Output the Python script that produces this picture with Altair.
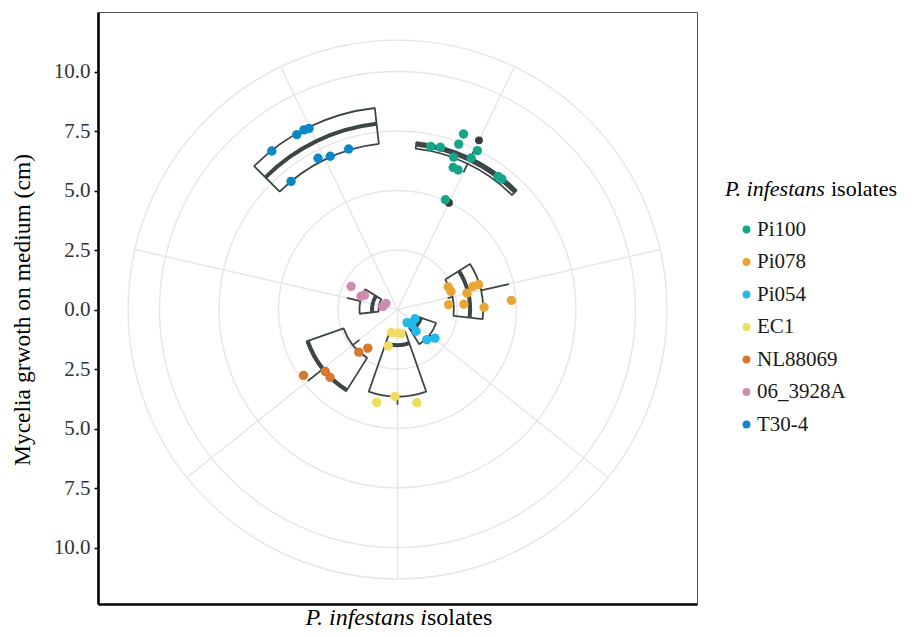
import math
import altair as alt
import pandas as pd

# ---------------- data ----------------
isolates = ["Pi100", "Pi078", "Pi054", "EC1", "NL88069", "06_3928A", "T30-4"]
palette = ["#16A589", "#E8A735", "#25B8EA", "#F0DC5E", "#D6792E", "#CE8AB0", "#0A87C6"]

# jittered observations (cm) and their angular jitter (fraction of one category)
values = {
    "Pi100": [7.88, 7.41, 7.47, 6.99, 7.05, 6.82, 7.08, 6.41, 6.39, 7.01, 7.02, 5.03],
    "Pi078": [2.33, 2.37, 2.16, 2.80, 3.00, 3.31, 3.57, 3.64, 4.80],
    "Pi054": [0.68, 0.83, 0.87, 1.20, 1.77, 1.98],
    "EC1": [1.00, 1.00, 1.03, 1.58, 3.65, 4.00, 4.00],
    "NL88069": [4.82, 4.00, 4.02, 2.42, 2.05],
    "06_3928A": [2.18, 1.63, 1.51, 0.63, 0.55],
    "T30-4": [8.50, 8.48, 8.51, 8.47, 7.00, 7.18, 7.03, 7.05],
}
jitter = {
    "Pi100": [-0.099, -0.105, 0.019, -0.276, -0.212, -0.107, 0.004, -0.084, -0.043, 0.221, 0.252, -0.041],
    "Pi078": [-0.215, -0.114, 0.143, 0.161, -0.007, -0.080, -0.082, 0.221, 0.161],
    "Pi054": [0.300, -0.206, 0.157, 0.213, 0.140, -0.021],
    "EC1": [0.278, -0.010, -0.161, 0.278, 0.033, 0.245, -0.227],
    "NL88069": [0.069, -0.041, -0.127, -0.179, -0.270],
    "06_3928A": [0.265, 0.139, 0.207, -0.036, 0.275],
    "T30-4": [-0.247, -0.082, -0.035, -0.006, -0.272, -0.039, 0.039, 0.171],
}

# box-plot statistics (cm)
box_q1 = [6.80, 2.37, 0.90, 0.98, 2.40, 0.80, 7.00]
box_median = [6.98, 3.05, 1.05, 1.50, 4.00, 1.07, 7.85]
box_q3 = [7.08, 3.60, 1.72, 3.66, 4.05, 1.60, 8.52]
whisker_low = [6.39, 2.16, 0.68, 0.98, 2.05, 0.55, 7.00]
whisker_high = [7.47, 4.80, 1.98, 4.00, 4.82, 2.18, 8.52]

outlier_isolate = ["Pi100", "Pi100"]
outlier_value = [7.89, 4.98]

grid_radius = [2.5, 5.0, 7.5, 10.0, 11.32]
y_ticks = [-10, -7.5, -5, -2.5, 0, 2.5, 5, 7.5, 10]

# ---------------- tables ----------------
points_df = pd.DataFrame(
    [
        {"isolate": iso, "idx": isolates.index(iso), "value": v, "jit": j}
        for iso in isolates
        for v, j in zip(values[iso], jitter[iso])
    ]
)
box_df = pd.DataFrame(
    {
        "isolate": isolates,
        "idx": list(range(len(isolates))),
        "q1": box_q1,
        "med": box_median,
        "q3": box_q3,
        "wlo": whisker_low,
        "whi": whisker_high,
    }
)
out_df = pd.DataFrame(
    {"isolate": outlier_isolate, "idx": [isolates.index(i) for i in outlier_isolate], "value": outlier_value}
)
grid_df = pd.DataFrame({"r": grid_radius})
spoke_df = pd.DataFrame({"idx": list(range(len(isolates))), "r": [grid_radius[-1]] * len(isolates)})
one = pd.DataFrame({"a": [0]})

# ---------------- geometry / style ----------------
W, H = 599, 592
PPU = 23.8          # pixels per cm
CX, CY = 299.5, 297.5
N = len(isolates)
BOX = "#3D4646"
GRID = "#E6E6EA"
FONT = "Liberation Serif"

x_scale = alt.Scale(domain=[-CX / PPU, (W - CX) / PPU], nice=False, zero=False)
y_scale = alt.Scale(domain=[-(H - CY) / PPU, CY / PPU], nice=False, zero=False)
theta_scale = alt.Scale(type="linear", domain=[0, N], range=[0, 2 * math.pi], nice=False, zero=False)
r_scale = alt.Scale(type="linear", domain=[0, 10], range=[0, 10 * PPU], nice=False, zero=True)

cx = alt.value(CX)
cy = alt.value(CY)


def arc_layer(df, stroke, width):
    return alt.Chart(df).mark_arc(fillOpacity=0, stroke=stroke, strokeWidth=width, strokeJoin="bevel")


circles = (
    arc_layer(grid_df, GRID, 1.4)
    .transform_calculate(t0="0", t1=str(N))
    .encode(
        x=cx, y=cy,
        theta=alt.Theta("t0:Q", scale=theta_scale, stack=False), theta2="t1:Q",
        radius=alt.Radius("r:Q", scale=r_scale, stack=False), radius2="r:Q",
    )
)
spokes = (
    arc_layer(spoke_df, GRID, 1.4)
    .transform_calculate(t="datum.idx + 0.5", r0="0")
    .encode(
        x=cx, y=cy,
        theta=alt.Theta("t:Q", scale=theta_scale, stack=False), theta2="t:Q",
        radius=alt.Radius("r:Q", scale=r_scale, stack=False), radius2="r0:Q",
    )
)

box_calc = dict(t0="datum.idx + 0.5 - 0.375", t1="datum.idx + 0.5 + 0.375", tc="datum.idx + 0.5")

boxes = (
    arc_layer(box_df, BOX, 1.8)
    .transform_calculate(**box_calc)
    .encode(
        x=cx, y=cy,
        theta=alt.Theta("t0:Q", scale=theta_scale, stack=False), theta2="t1:Q",
        radius=alt.Radius("q3:Q", scale=r_scale, stack=False), radius2="q1:Q",
    )
)
medians = (
    arc_layer(box_df, BOX, 4)
    .transform_calculate(**box_calc)
    .encode(
        x=cx, y=cy,
        theta=alt.Theta("t0:Q", scale=theta_scale, stack=False), theta2="t1:Q",
        radius=alt.Radius("med:Q", scale=r_scale, stack=False), radius2="med:Q",
    )
)
whisk_hi = (
    arc_layer(box_df, BOX, 1.8)
    .transform_calculate(**box_calc)
    .encode(
        x=cx, y=cy,
        theta=alt.Theta("tc:Q", scale=theta_scale, stack=False), theta2="tc:Q",
        radius=alt.Radius("whi:Q", scale=r_scale, stack=False), radius2="q3:Q",
    )
)
whisk_lo = (
    arc_layer(box_df, BOX, 1.8)
    .transform_calculate(**box_calc)
    .encode(
        x=cx, y=cy,
        theta=alt.Theta("tc:Q", scale=theta_scale, stack=False), theta2="tc:Q",
        radius=alt.Radius("q1:Q", scale=r_scale, stack=False), radius2="wlo:Q",
    )
)

polar_xy = dict(
    ang=f"(datum.idx + 0.5 + datum.jit) * 2 * PI / {N}",
    px="datum.value * sin(datum.ang)",
    py="datum.value * cos(datum.ang)",
)

x_axis = alt.Axis(labels=False, ticks=False, grid=False, title=None, domainColor="black", domainWidth=2.6)
y_axis = alt.Axis(
    values=y_ticks,
    labelExpr="format(abs(datum.value), '.1f')",
    grid=False,
    domainColor="black",
    domainWidth=2.6,
    tickColor="black",
    tickSize=4,
    tickWidth=1.5,
    labelPadding=4,
    labelFont=FONT,
    labelFontSize=21,
    labelColor="#333333",
    title="Mycelia grwoth on medium (cm)",
    titleFont=FONT,
    titleFontSize=23.5,
    titleFontWeight="normal",
    titleColor="black",
    titleX=-76,
    titleY=CY,
    titleAngle=-90,
    titleAlign="center",
    titleBaseline="middle",
)

outliers = (
    alt.Chart(out_df)
    .transform_calculate(jit="0", **polar_xy)
    .mark_circle(size=62, opacity=1, color="#3A3A3A")
    .encode(
        x=alt.X("px:Q", scale=x_scale, axis=x_axis),
        y=alt.Y("py:Q", scale=y_scale, axis=y_axis),
    )
)

legend = alt.Legend(
    title=None,
    orient="none",
    legendX=638,
    legendY=207,
    symbolType="circle",
    symbolSize=62,
    symbolStrokeWidth=0,
    symbolOpacity=1,
    labelFont=FONT,
    labelFontSize=21,
    labelColor="#1A1A1A",
    labelOffset=0,
    rowPadding=10.5,
    padding=0,
)

pts = (
    alt.Chart(points_df)
    .transform_calculate(**polar_xy)
    .mark_circle(size=88, opacity=1)
    .encode(
        x=alt.X("px:Q", scale=x_scale, axis=x_axis),
        y=alt.Y("py:Q", scale=y_scale, axis=y_axis),
        color=alt.Color("isolate:N", scale=alt.Scale(domain=isolates, range=palette), legend=legend),
    )
)


def label(text, x, y, size, align="left", italic=False):
    return (
        alt.Chart(one)
        .mark_text(
            text=text, font=FONT, fontSize=size, align=align, baseline="middle",
            fontStyle="italic" if italic else "normal", color="black",
        )
        .encode(x=alt.value(x), y=alt.value(y))
    )


texts = [
    label("P. infestans i", 329, 606, 24, align="right", italic=True),
    label("solates", 329, 606, 24, align="left"),
    label("P. infestans", 627, 177, 22, italic=True),
    label("isolates", 733, 177, 22),
]

chart = (
    alt.layer(circles, spokes, boxes, medians, whisk_hi, whisk_lo, outliers, pts, *texts)
    .properties(
        width=W,
        height=H,
        padding={"left": 90, "top": 4, "right": 200, "bottom": 25},
        autosize=alt.AutoSizeParams(type="none"),
    )
    .configure_view(stroke="#555555", strokeWidth=1)
)

chart.save("out.html", embed_options={"renderer": "svg", "actions": False})
